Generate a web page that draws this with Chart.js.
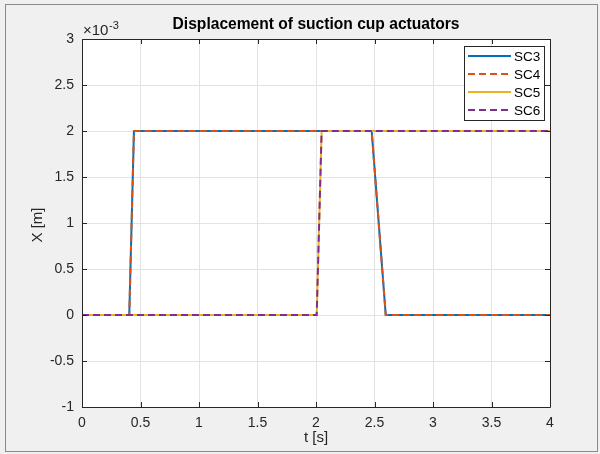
<!DOCTYPE html>
<html><head><meta charset="utf-8">
<script src="https://cdn.jsdelivr.net/npm/chart.js@4/dist/chart.umd.min.js"></script>
<style>html,body{margin:0;padding:0;background:#f0f0f0}#c{display:block}</style>
</head><body>
<canvas id="c" width="600" height="454"></canvas>
<script>
// Time samples [s] and displacement values [m]
const tSC3 = [0, 0.404, 0.444, 2.476, 2.596, 4];
const xSC3 = [0, 0, 0.002, 0.002, 0, 0];
const tSC4 = [0, 0.404, 0.444, 2.476, 2.596, 4];
const xSC4 = [0, 0, 0.002, 0.002, 0, 0];
const tSC5 = [0, 2.006, 2.048, 4];
const xSC5 = [0, 0, 0.002, 0.002];
const tSC6 = [0, 2.006, 2.048, 4];
const xSC6 = [0, 0, 0.002, 0.002];
const seriesNames = ['SC3', 'SC4', 'SC5', 'SC6'];
const xTicks = [0, 0.5, 1, 1.5, 2, 2.5, 3, 3.5, 4];
const yTicks = [-0.001, -0.0005, 0, 0.0005, 0.001, 0.0015, 0.002, 0.0025, 0.003];
const titleText = 'Displacement of suction cup actuators';
const xLabel = 't [s]';
const yLabel = 'X [m]';

const FONT = '"Liberation Sans", Arial, Helvetica, sans-serif';
const colors = ['#0072BD', '#D95319', '#EDB120', '#7E2F8E'];
const dashes = [[], [7, 4], [], [7, 4]];
const pts = (t, x) => t.map((v, i) => ({x: v, y: x[i]}));
const series = [pts(tSC3, xSC3), pts(tSC4, xSC4), pts(tSC5, xSC5), pts(tSC6, xSC6)];

const datasets = series.map((d, i) => ({
  label: seriesNames[i], data: d, borderColor: colors[i], backgroundColor: colors[i],
  borderWidth: 2, borderDash: dashes[i], pointRadius: 0, tension: 0, fill: false,
  order: 4 - i
}));

const fmtY = v => String(Math.round(v * 1e4) / 10);

const deco = {
  id: 'deco',
  beforeDraw(chart) {
    const {ctx, chartArea: a} = chart;
    ctx.save();
    ctx.fillStyle = '#f0f0f0';
    ctx.fillRect(0, 0, chart.width, chart.height);
    ctx.strokeStyle = '#8a8a8a';
    ctx.lineWidth = 1;
    ctx.strokeRect(5.5, 4.5, 592, 447);
    ctx.fillStyle = '#ffffff';
    ctx.fillRect(a.left, a.top, a.right - a.left, a.bottom - a.top);
    ctx.restore();
  },
  afterDatasetsDraw(chart) {
    const {ctx, chartArea: a, scales} = chart;
    ctx.save();
    ctx.strokeStyle = '#262626';
    ctx.lineWidth = 1;
    ctx.beginPath();
    ctx.rect(Math.round(a.left) + 0.5, Math.round(a.top) + 0.5, Math.round(a.right - a.left), Math.round(a.bottom - a.top));
    ctx.stroke();
    ctx.beginPath();
    xTicks.forEach(v => {
      const px = Math.round(scales.x.getPixelForValue(v)) + 0.5;
      ctx.moveTo(px, a.bottom); ctx.lineTo(px, a.bottom - 5);
      ctx.moveTo(px, a.top); ctx.lineTo(px, a.top + 5);
    });
    yTicks.forEach(v => {
      const py = Math.round(scales.y.getPixelForValue(v)) + 0.5;
      ctx.moveTo(a.left, py); ctx.lineTo(a.left + 5, py);
      ctx.moveTo(a.right, py); ctx.lineTo(a.right - 5, py);
    });
    ctx.stroke();
    ctx.restore();
  },
  afterDraw(chart) {
    const {ctx, chartArea: a} = chart;
    ctx.save();
    ctx.fillStyle = '#000000';
    ctx.font = 'bold 15.6px ' + FONT;
    ctx.textAlign = 'center';
    ctx.textBaseline = 'middle';
    ctx.fillText(titleText, (a.left + a.right) / 2, 25);
    ctx.fillStyle = '#262626';
    ctx.font = '15px ' + FONT;
    ctx.fillText(xLabel, (a.left + a.right) / 2, 438);
    ctx.save();
    ctx.translate(38, (a.top + a.bottom) / 2 + 2);
    ctx.rotate(-Math.PI / 2);
    ctx.fillText(yLabel, 0, 0);
    ctx.restore();
    // exponent
    ctx.textAlign = 'left';
    ctx.textBaseline = 'alphabetic';
    ctx.font = '15px ' + FONT;
    ctx.fillText('\u00d710', 83, 35);
    ctx.font = '11px ' + FONT;
    ctx.fillText('-3', 109, 29);
    // legend
    const lx = 464, ly = 46, lw = 80, lh = 74;
    ctx.fillStyle = '#ffffff';
    ctx.fillRect(lx, ly, lw, lh);
    ctx.strokeStyle = '#262626';
    ctx.lineWidth = 1;
    ctx.strokeRect(lx + 0.5, ly + 0.5, lw, lh);
    ctx.font = '13.5px ' + FONT;
    ctx.textBaseline = 'middle';
    seriesNames.forEach((n, i) => {
      const y = 56 + i * 18;
      ctx.strokeStyle = colors[i];
      ctx.lineWidth = 2;
      ctx.setLineDash(dashes[i]);
      ctx.beginPath();
      ctx.moveTo(468, y); ctx.lineTo(511, y);
      ctx.stroke();
      ctx.setLineDash([]);
      ctx.fillStyle = '#000000';
      ctx.fillText(n, 514, y + 1);
    });
    ctx.restore();
  }
};

new Chart(document.getElementById('c'), {
  type: 'line',
  data: {datasets},
  plugins: [deco],
  options: {
    responsive: false, animation: false, devicePixelRatio: 1,
    layout: {padding: {left: 0, right: 50, top: 39, bottom: 0}},
    plugins: {legend: {display: false}, title: {display: false}, tooltip: {enabled: false}},
    scales: {
      x: {
        type: 'linear', min: 0, max: 4,
        afterFit: s => { s.height = 47; },
        afterBuildTicks: s => { s.ticks = xTicks.map(v => ({value: v})); },
        grid: {color: '#e3e3e3', drawTicks: false, lineWidth: 1},
        border: {display: false},
        ticks: {padding: 8, color: '#262626', font: {family: FONT, size: 14}, maxRotation: 0,
                callback: v => String(v)}
      },
      y: {
        type: 'linear', min: -0.001, max: 0.003,
        afterFit: s => { s.width = 82; },
        afterBuildTicks: s => { s.ticks = yTicks.map(v => ({value: v})); },
        grid: {color: '#e3e3e3', drawTicks: false, lineWidth: 1},
        border: {display: false},
        ticks: {padding: 8, color: '#262626', font: {family: FONT, size: 14},
                callback: v => fmtY(v)}
      }
    }
  }
});
</script>
</body></html>
